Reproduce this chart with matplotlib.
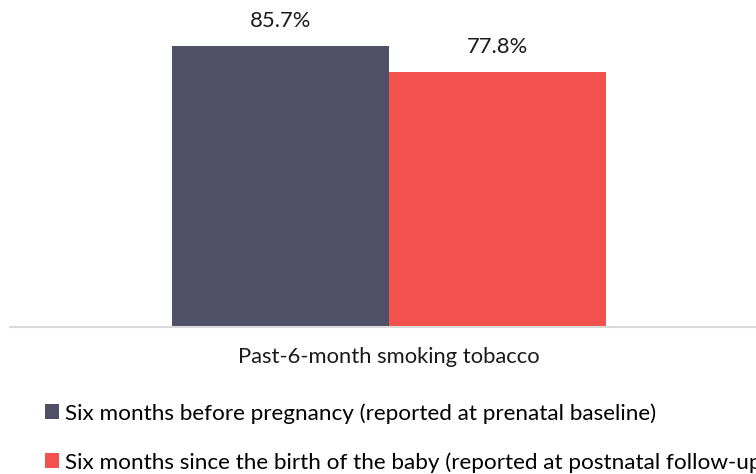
import matplotlib
matplotlib.use("Agg")
import matplotlib.pyplot as plt
from matplotlib.patches import Patch

plt.rcParams['font.family'] = ['Lato', 'DejaVu Sans']

category = "Past-6-month smoking tobacco"
series = ["Six months before pregnancy (reported at prenatal baseline)",
          "Six months since the birth of the baby (reported at postnatal follow-up)"]
values = [85.7, 77.8]
colors = ["#4f5067", "#f2514d"]

W, H = 756, 474
FS = 15.8
fig = plt.figure(figsize=(W / 100, H / 100), dpi=100)
ax = fig.add_axes([10 / W, (H - 327) / H, 758 / W, 328 / H])

bw = 0.2863
offsets = [-bw / 2, bw / 2]
for v, c, off in zip(values, colors, offsets):
    ax.bar(off, v, width=bw, color=c, linewidth=0)
    ax.annotate(f"{v:.1f}%", xy=(off, v), xytext=(0, 18), textcoords="offset points",
                ha="center", va="center", fontsize=FS, color="#1a1a1a")

ax.set_xlim(-0.5, 0.5)
ax.set_ylim(0, 100)
for s in ["top", "right", "left"]:
    ax.spines[s].set_visible(False)
ax.spines["bottom"].set_color("#d9d9d9")
ax.spines["bottom"].set_linewidth(1.5)
ax.set_yticks([])
ax.set_xticks([])
ax.annotate(category, xy=(0, 0), xycoords=("data", "axes fraction"),
            xytext=(0, -21.5), textcoords="offset points",
            ha="center", va="center", fontsize=FS, color="#1a1a1a")

handles = [Patch(facecolor=c, edgecolor="none") for c in colors]
fig.legend(handles, series, loc="upper left", bbox_to_anchor=(45 / W, 1 - 403 / H),
           frameon=False, fontsize=16.2, handlelength=0.64, handleheight=0.64,
           handletextpad=0.25, labelspacing=1.27, borderaxespad=0, borderpad=0)

fig.savefig("out.png", dpi=100)
